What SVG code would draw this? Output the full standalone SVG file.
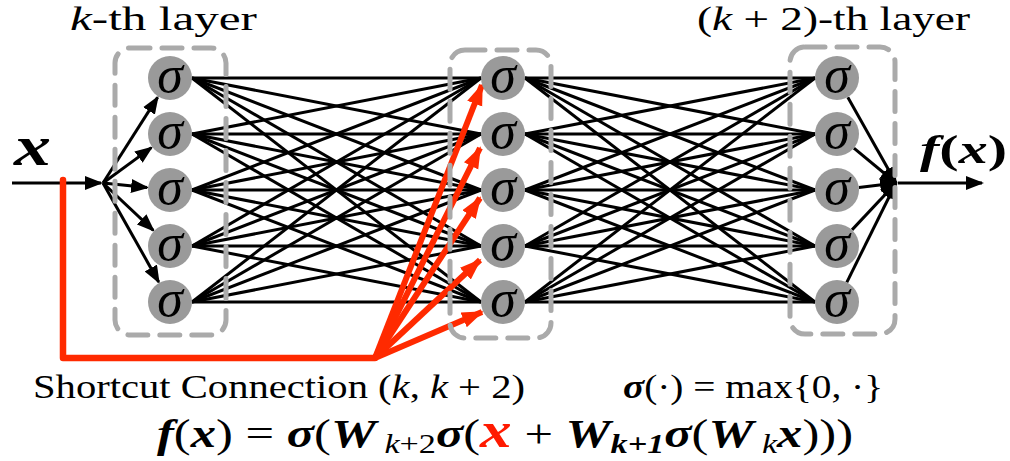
<svg xmlns="http://www.w3.org/2000/svg" width="1010" height="461" viewBox="0 0 1010 461">
<defs>
<style>
text{font-family:"Liberation Serif","Times New Roman",serif}
.i{font-style:italic}
.bi{font-style:italic;font-weight:bold}
.b{font-weight:bold}
.red{fill:#ff1a00}
.mesh line{stroke:#000;stroke-width:3}
.arr{stroke:#000;stroke-width:3;fill:none;marker-end:url(#ah)}
.rarr{stroke:#ff2a00;stroke-width:6;fill:none;marker-end:url(#rh)}
.node circle{fill:#9a9a9a}
.node text{font-style:italic;font-size:52px;text-anchor:middle}
.box{fill:none;stroke:#aaaaaa;stroke-width:5;stroke-dasharray:20 12;stroke-linecap:round}
</style>
<marker id="ah" markerUnits="userSpaceOnUse" markerWidth="20" markerHeight="14" refX="16" refY="7" orient="auto"><path d="M0,0 L18,7 L0,14 z" fill="#000"/></marker>
<marker id="rh" markerUnits="userSpaceOnUse" markerWidth="24" markerHeight="18" refX="20" refY="8" orient="auto"><path d="M0,0 L22,8 L0,16 z" fill="#ff2a00"/></marker>
</defs>
<rect width="1010" height="461" fill="#fff"/>

<g id="connectors">
<g class="mesh">
<line x1="192" y1="78" x2="481" y2="78"/><line x1="192" y1="78" x2="481" y2="134"/><line x1="192" y1="78" x2="481" y2="190"/><line x1="192" y1="78" x2="481" y2="246"/><line x1="192" y1="78" x2="481" y2="302"/>
<line x1="192" y1="134" x2="481" y2="78"/><line x1="192" y1="134" x2="481" y2="134"/><line x1="192" y1="134" x2="481" y2="190"/><line x1="192" y1="134" x2="481" y2="246"/><line x1="192" y1="134" x2="481" y2="302"/>
<line x1="192" y1="190" x2="481" y2="78"/><line x1="192" y1="190" x2="481" y2="134"/><line x1="192" y1="190" x2="481" y2="190"/><line x1="192" y1="190" x2="481" y2="246"/><line x1="192" y1="190" x2="481" y2="302"/>
<line x1="192" y1="246" x2="481" y2="78"/><line x1="192" y1="246" x2="481" y2="134"/><line x1="192" y1="246" x2="481" y2="190"/><line x1="192" y1="246" x2="481" y2="246"/><line x1="192" y1="246" x2="481" y2="302"/>
<line x1="192" y1="302" x2="481" y2="78"/><line x1="192" y1="302" x2="481" y2="134"/><line x1="192" y1="302" x2="481" y2="190"/><line x1="192" y1="302" x2="481" y2="246"/><line x1="192" y1="302" x2="481" y2="302"/>
<line x1="525" y1="78" x2="815" y2="78"/><line x1="525" y1="78" x2="815" y2="134"/><line x1="525" y1="78" x2="815" y2="190"/><line x1="525" y1="78" x2="815" y2="246"/><line x1="525" y1="78" x2="815" y2="302"/>
<line x1="525" y1="134" x2="815" y2="78"/><line x1="525" y1="134" x2="815" y2="134"/><line x1="525" y1="134" x2="815" y2="190"/><line x1="525" y1="134" x2="815" y2="246"/><line x1="525" y1="134" x2="815" y2="302"/>
<line x1="525" y1="190" x2="815" y2="78"/><line x1="525" y1="190" x2="815" y2="134"/><line x1="525" y1="190" x2="815" y2="190"/><line x1="525" y1="190" x2="815" y2="246"/><line x1="525" y1="190" x2="815" y2="302"/>
<line x1="525" y1="246" x2="815" y2="78"/><line x1="525" y1="246" x2="815" y2="134"/><line x1="525" y1="246" x2="815" y2="190"/><line x1="525" y1="246" x2="815" y2="246"/><line x1="525" y1="246" x2="815" y2="302"/>
<line x1="525" y1="302" x2="815" y2="78"/><line x1="525" y1="302" x2="815" y2="134"/><line x1="525" y1="302" x2="815" y2="190"/><line x1="525" y1="302" x2="815" y2="246"/><line x1="525" y1="302" x2="815" y2="302"/>
</g>
<path class="arr" d="M12,183 L101,183"/>
<path class="arr" d="M103,183 L157.6,97.4"/>
<path class="arr" d="M103,183 L151.4,147.6"/>
<path class="arr" d="M103,183 L147.1,187.6"/>
<path class="arr" d="M103,183 L153.3,230.3"/>
<path class="arr" d="M103,183 L158.7,282"/>
<path class="arr" d="M847.8,97.2 L896,183"/>
<path class="arr" d="M853.9,148.1 L896,183"/>
<path class="arr" d="M858.9,187.4 L896,183"/>
<path class="arr" d="M852,229.9 L896,183"/>
<path class="arr" d="M846.8,282.3 L896,183"/>
<path class="arr" d="M898,183 L982,183"/>
<path d="M63,180 V358 H375" fill="none" stroke="#ff2a00" stroke-width="6.5" stroke-linejoin="round" stroke-linecap="round"/>
<path class="rarr" d="M375,358 L482,85"/>
<path class="rarr" d="M375,358 L480,148"/>
<path class="rarr" d="M375,358 L480,198"/>
<path class="rarr" d="M375,358 L480,260"/>
<path class="rarr" d="M375,358 L482,312"/>
</g>

<g id="layer-k-box"><rect class="box" x="115" y="48" width="111" height="287" rx="15"/></g>
<g id="layer-k1-box"><rect class="box" x="450" y="50" width="101" height="288" rx="15"/></g>
<g id="layer-k2-box"><rect class="box" x="790" y="47" width="105" height="287" rx="15"/></g>

<g id="n1-1" class="node"><circle cx="170" cy="78" r="22"/><text x="170" y="92">σ</text></g>
<g id="n1-2" class="node"><circle cx="170" cy="134" r="22"/><text x="170" y="148">σ</text></g>
<g id="n1-3" class="node"><circle cx="170" cy="190" r="22"/><text x="170" y="204">σ</text></g>
<g id="n1-4" class="node"><circle cx="170" cy="246" r="22"/><text x="170" y="260">σ</text></g>
<g id="n1-5" class="node"><circle cx="170" cy="302" r="22"/><text x="170" y="316">σ</text></g>
<g id="n2-1" class="node"><circle cx="503" cy="78" r="22"/><text x="503" y="92">σ</text></g>
<g id="n2-2" class="node"><circle cx="503" cy="134" r="22"/><text x="503" y="148">σ</text></g>
<g id="n2-3" class="node"><circle cx="503" cy="190" r="22"/><text x="503" y="204">σ</text></g>
<g id="n2-4" class="node"><circle cx="503" cy="246" r="22"/><text x="503" y="260">σ</text></g>
<g id="n2-5" class="node"><circle cx="503" cy="302" r="22"/><text x="503" y="316">σ</text></g>
<g id="n3-1" class="node"><circle cx="837" cy="78" r="22"/><text x="837" y="92">σ</text></g>
<g id="n3-2" class="node"><circle cx="837" cy="134" r="22"/><text x="837" y="148">σ</text></g>
<g id="n3-3" class="node"><circle cx="837" cy="190" r="22"/><text x="837" y="204">σ</text></g>
<g id="n3-4" class="node"><circle cx="837" cy="246" r="22"/><text x="837" y="260">σ</text></g>
<g id="n3-5" class="node"><circle cx="837" cy="302" r="22"/><text x="837" y="316">σ</text></g>

<g id="labels">
<text x="70" y="30" font-size="34" textLength="187" lengthAdjust="spacingAndGlyphs"><tspan class="i">k</tspan>-th layer</text>
<text x="697" y="30" font-size="34" textLength="273" lengthAdjust="spacingAndGlyphs">(<tspan class="i">k</tspan> + 2)-th layer</text>
<text class="bi" x="14" y="165" font-size="56" textLength="37" lengthAdjust="spacingAndGlyphs">x</text>
<text x="920" y="163" font-size="40" textLength="87" lengthAdjust="spacingAndGlyphs"><tspan class="bi">f</tspan><tspan class="b">(</tspan><tspan class="bi">x</tspan><tspan class="b">)</tspan></text>
<text x="33" y="398" font-size="34" textLength="492" lengthAdjust="spacingAndGlyphs">Shortcut Connection (<tspan class="i">k</tspan>, <tspan class="i">k</tspan> + 2)</text>
<text x="623" y="398" font-size="34" textLength="260" lengthAdjust="spacingAndGlyphs"><tspan class="bi">σ</tspan>(·) = max{0, ·}</text>
<text x="157" y="447" font-size="40" textLength="696" lengthAdjust="spacingAndGlyphs"><tspan class="bi">f</tspan>(<tspan class="bi">x</tspan>) = <tspan class="bi">σ</tspan>(<tspan class="bi">W</tspan><tspan class="i" font-size="27" dy="6"> k</tspan><tspan font-size="27">+2</tspan><tspan class="bi" dy="-6">σ</tspan>(<tspan class="bi red" font-size="50">x</tspan> + <tspan class="bi">W</tspan><tspan class="bi" font-size="27" dy="6">k+1</tspan><tspan class="bi" dy="-6">σ</tspan>(<tspan class="bi">W</tspan><tspan class="i" font-size="27" dy="6"> k</tspan><tspan class="bi" dy="-6">x</tspan>)))</text>
</g>
</svg>
